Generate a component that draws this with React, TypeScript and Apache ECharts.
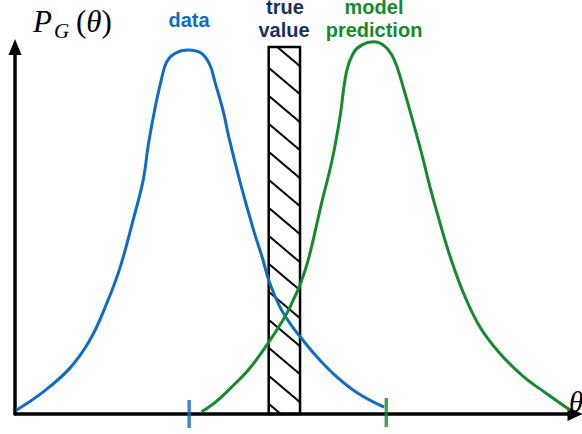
import React, { useEffect, useRef } from "react";
import * as echarts from "echarts";

// Blue curve: "data" distribution (theta, P)
const thetaData = [0.03, 0.51, 0.98, 1.34, 1.64, 1.88, 2.11, 2.29, 2.38, 2.5, 2.62, 2.71, 2.86, 3.09, 3.33, 3.48, 3.57, 3.72, 3.81, 4.02, 4.26, 4.41, 4.55, 4.73, 4.91, 5.09, 5.39, 5.74, 6.13, 6.59];
const pData = [0.011, 0.061, 0.125, 0.202, 0.302, 0.401, 0.529, 0.638, 0.733, 0.833, 0.915, 0.96, 0.983, 0.992, 0.983, 0.951, 0.905, 0.824, 0.76, 0.632, 0.501, 0.429, 0.356, 0.292, 0.247, 0.211, 0.156, 0.102, 0.056, 0.019];

// Green curve: "model prediction" distribution
const thetaModel = [3.33, 3.57, 3.84, 4.2, 4.55, 4.82, 4.97, 5.09, 5.24, 5.48, 5.66, 5.8, 5.92, 6.04, 6.19, 6.4, 6.61, 6.76, 6.88, 7.23, 7.41, 7.59, 7.77, 8.01, 8.3, 8.66, 9.08, 9.49, 9.91];
const pModel = [0.006, 0.031, 0.069, 0.126, 0.2, 0.265, 0.311, 0.352, 0.422, 0.578, 0.69, 0.806, 0.933, 0.983, 1.005, 1.014, 1.001, 0.969, 0.918, 0.728, 0.619, 0.52, 0.429, 0.329, 0.238, 0.165, 0.102, 0.056, 0.011];

// Markers on the theta axis
const dataTick = [3.11];
const modelTick = [6.63];

// True value band
const trueValueLow = [4.53];
const trueValueHigh = [5.09];
const trueValueTop = [1.0];

const BLUE = "#0f6cc6";
const GREEN = "#158a2d";
const NAVY = "#17305e";

export default function App() {
  const ref = useRef<HTMLDivElement>(null);

  useEffect(() => {
    if (!ref.current) return;
    const chart = echarts.init(ref.current, null, { renderer: "svg" });

    const blue = thetaData.map((t, i) => [t, pData[i]]);
    const green = thetaModel.map((t, i) => [t, pModel[i]]);

    const option: any = {
      animation: false,
      grid: { left: 15, right: 7, top: 47, bottom: 20 },
      xAxis: {
        type: "value",
        min: 0,
        max: 10,
        axisLine: {
          show: true,
          symbol: ["none", "triangle"],
          symbolSize: [14, 15],
          lineStyle: { color: "#000", width: 3.5 },
        },
        axisTick: { show: false },
        axisLabel: { show: false },
        splitLine: { show: false },
      },
      yAxis: {
        type: "value",
        min: 0,
        max: 1,
        axisLine: {
          show: true,
          symbol: ["none", "triangle"],
          symbolSize: [13, 16],
          lineStyle: { color: "#000", width: 3.5 },
        },
        axisTick: { show: false },
        axisLabel: { show: false },
        splitLine: { show: false },
      },
      series: [
        {
          type: "custom",
          coordinateSystem: "cartesian2d",
          clip: false,
          z: 3,
          data: [[trueValueLow[0], trueValueHigh[0], trueValueTop[0]]],
          renderItem: (params: any, api: any) => {
            const p1 = api.coord([api.value(0), api.value(2)]);
            const p2 = api.coord([api.value(1), 0]);
            const x0 = p1[0], y0 = p1[1], x1 = p2[0], y1 = p2[1];
            const s = 0.85, gap = 28, off = 20.7;
            const children: any[] = [];
            for (let yl = y0 + off - gap; yl < y1; yl += gap) {
              let xs = x0, ys = yl;
              if (ys < y0) { xs = x0 + (y0 - yl) / s; ys = y0; }
              let xe = x1, ye = yl + s * (x1 - x0);
              if (ye > y1) { xe = x0 + (y1 - yl) / s; ye = y1; }
              const len = Math.hypot(xe - xs, ye - ys);
              if (xs < xe && len > 15) {
                children.push({ type: "line", shape: { x1: xs, y1: ys, x2: xe, y2: ye }, style: { stroke: "#000", lineWidth: 2 } });
              }
            }
            children.push({ type: "rect", shape: { x: x0, y: y0, width: x1 - x0, height: y1 - y0 }, style: { fill: "none", stroke: "#000", lineWidth: 2.5 } });
            return { type: "group", children };
          },
        },
        {
          type: "line",
          data: blue,
          smooth: 0.4,
          showSymbol: false,
          clip: false,
          z: 4,
          lineStyle: { color: BLUE, width: 3 },
        },
        {
          type: "line",
          data: green,
          smooth: 0.4,
          showSymbol: false,
          clip: false,
          z: 4,
          lineStyle: { color: GREEN, width: 3 },
        },
        {
          type: "scatter",
          data: dataTick.map((t) => [t, 0]),
          symbol: "rect",
          symbolSize: [3.5, 28],
          clip: false,
          z: 6,
          itemStyle: { color: BLUE },
        },
        {
          type: "scatter",
          data: modelTick.map((t) => [t, 0]),
          symbol: "rect",
          symbolSize: [3.5, 29],
          symbolOffset: [0, -1.5],
          clip: false,
          z: 6,
          itemStyle: { color: GREEN },
        },
      ],
      graphic: [
        { type: "text", left: 33, top: 6, style: { text: "P", font: "italic 31px 'Liberation Serif'", fill: "#000" } },
        { type: "text", left: 54, top: 20, style: { text: "G", font: "italic 21px 'Liberation Serif'", fill: "#000" } },
        {
          type: "text", left: 76, top: 6,
          style: {
            text: "{a|(}{b|θ}{a|)}",
            rich: {
              a: { font: "31px 'Liberation Serif'", fill: "#000" },
              b: { font: "italic 31px 'Liberation Serif'", fill: "#000" },
            },
          },
        },
        { type: "text", x: 576, y: 402, style: { text: "θ", font: "italic 29px 'Liberation Serif'", fill: "#000", textAlign: "center", textVerticalAlign: "middle" } },
        { type: "text", x: 189, y: 20, style: { text: "data", font: "bold 20px 'Liberation Sans'", fill: BLUE, textAlign: "center", textVerticalAlign: "middle" } },
        { type: "text", x: 285, y: 7, style: { text: "true", font: "bold 20px 'Liberation Sans'", fill: NAVY, textAlign: "center", textVerticalAlign: "middle" } },
        { type: "text", x: 284, y: 30, style: { text: "value", font: "bold 20px 'Liberation Sans'", fill: NAVY, textAlign: "center", textVerticalAlign: "middle" } },
        { type: "text", x: 374, y: 6.5, style: { text: "model", font: "bold 20px 'Liberation Sans'", fill: GREEN, textAlign: "center", textVerticalAlign: "middle" } },
        { type: "text", x: 374, y: 30, style: { text: "prediction", font: "bold 20px 'Liberation Sans'", fill: GREEN, textAlign: "center", textVerticalAlign: "middle" } },
      ],
    };

    chart.setOption(option);
    return () => chart.dispose();
  }, []);

  return (
    <div
      ref={ref}
      style={{ position: "fixed", left: 0, top: 0, width: 582, height: 434, background: "#fff" }}
    />
  );
}
